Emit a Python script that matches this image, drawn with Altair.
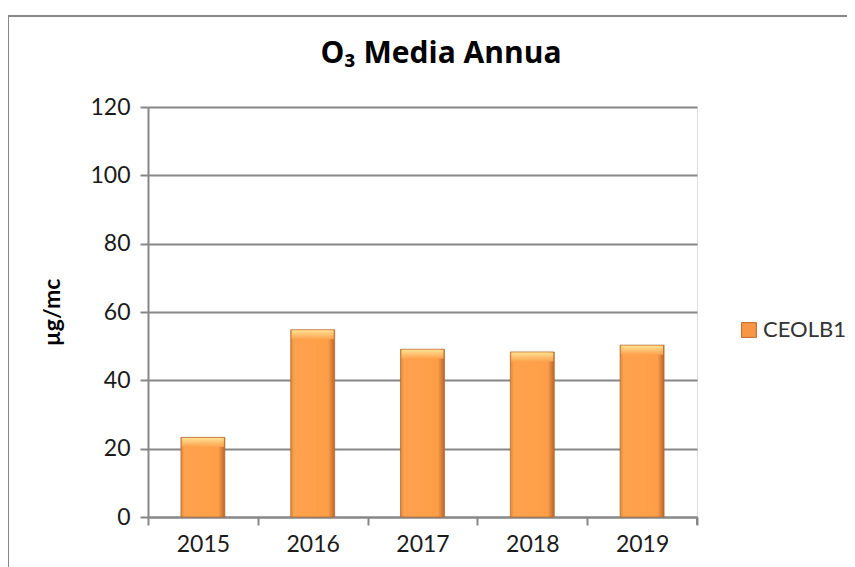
import altair as alt
import pandas as pd

years = ["2015", "2016", "2017", "2018", "2019"]
values = [23.3, 54.8, 49.1, 48.3, 50.3]
series = ["CEOLB1"] * 5
y_ticks = [0, 20, 40, 60, 80, 100, 120]

df = pd.DataFrame({"anno": years, "valore": values, "stazione": series})

W, H = 549, 410
FONT = "Lato"
GREY = "#878787"

bar_grad = alt.Gradient(
    gradient="linear", x1=0, x2=1, y1=0, y2=0,
    stops=[
        alt.GradientStop(offset=0, color="#E0863C"),
        alt.GradientStop(offset=0.08, color="#FFA24E"),
        alt.GradientStop(offset=0.85, color="#FF9E48"),
        alt.GradientStop(offset=1, color="#B8662A"),
    ],
)
cap_grad = alt.Gradient(
    gradient="linear", x1=0, x2=0, y1=0, y2=1,
    stops=[
        alt.GradientStop(offset=0, color="#FFE99A"),
        alt.GradientStop(offset=1, color="#FFA24E"),
    ],
)

x_enc = alt.X(
    "anno:N", title=None, sort=years,
    scale=alt.Scale(paddingInner=0, paddingOuter=0),
    axis=alt.Axis(
        labelAngle=0, bandPosition=0, tickBand="extent",
        labelFont=FONT, labelFontSize=23, labelColor="#1a1a1a", labelPadding=8,
        domainColor=GREY, domainWidth=2, tickColor=GREY, tickWidth=2, tickSize=8,
        grid=False,
    ),
)
y_enc = alt.Y(
    "valore:Q",
    scale=alt.Scale(domain=[0, 120], nice=False),
    axis=alt.Axis(
        values=y_ticks, title="µg/mc",
        titleFont=FONT, titleFontSize=23, titleFontWeight="bold", titleColor="#000000",
        titleAngle=-90, titleX=-96, titleY=205, titleAlign="center", titleBaseline="middle",
        labelFont=FONT, labelFontSize=23, labelColor="#1a1a1a", labelPadding=10,
        domainColor=GREY, domainWidth=2, tickColor=GREY, tickWidth=2, tickSize=8,
        gridColor=GREY, gridWidth=2,
    ),
)

bars = alt.Chart(df).mark_bar(
    width={"band": 0.4}, fill=bar_grad, stroke="#B86C30", strokeWidth=0.8
).encode(x=x_enc, y=y_enc)

caps = alt.Chart(df).mark_tick(
    thickness=9, size=42, yOffset=5, color=cap_grad, opacity=0.9
).encode(x=alt.X("anno:N", sort=years), y=alt.Y("valore:Q"))

legend_layer = alt.Chart(df).mark_square(opacity=0, size=1).encode(
    x=alt.X("anno:N", sort=years),
    y=alt.Y("valore:Q"),
    color=alt.Color(
        "stazione:N",
        scale=alt.Scale(range=["#F79646"]),
        legend=alt.Legend(
            title=None, orient="none", legendX=590, legendY=212,
            symbolType="square", symbolSize=220, symbolOpacity=1,
            symbolStrokeColor="#C0692A", symbolStrokeWidth=1,
            labelFont=FONT, labelFontSize=22, labelColor="#333333", labelOffset=3,
        ),
    ),
)

last_tick = alt.Chart(df).mark_rule(color=GREY, strokeWidth=2).encode(
    x=alt.value(W), y=alt.value(H), y2=alt.value(H + 8)
)

frame_left = alt.Chart(df).mark_rule(color=GREY, strokeWidth=2).encode(
    x=alt.value(-140), y=alt.value(-91), y2=alt.value(460)
)
frame_top = alt.Chart(df).mark_rule(color=GREY, strokeWidth=2).encode(
    x=alt.value(-140), x2=alt.value(720), y=alt.value(-91)
)

title_text = alt.Chart(pd.DataFrame({"t": ["O₃ Media Annua"]})).mark_text(
    font="Open Sans", fontSize=30, fontWeight="bold", color="#000000", align="center", baseline="alphabetic"
).encode(text="t:N", x=alt.value(293), y=alt.value(-44))

chart = alt.layer(bars, caps, legend_layer, last_tick, frame_left, frame_top, title_text).properties(
    width=W, height=H,
    autosize=alt.AutoSizeParams(type="none"),
    padding={"left": 140, "top": 99, "right": 150, "bottom": 50},
).configure_view(stroke=None).configure(background="white")

chart.save("out.html", embed_options={"renderer": "svg", "actions": False})
